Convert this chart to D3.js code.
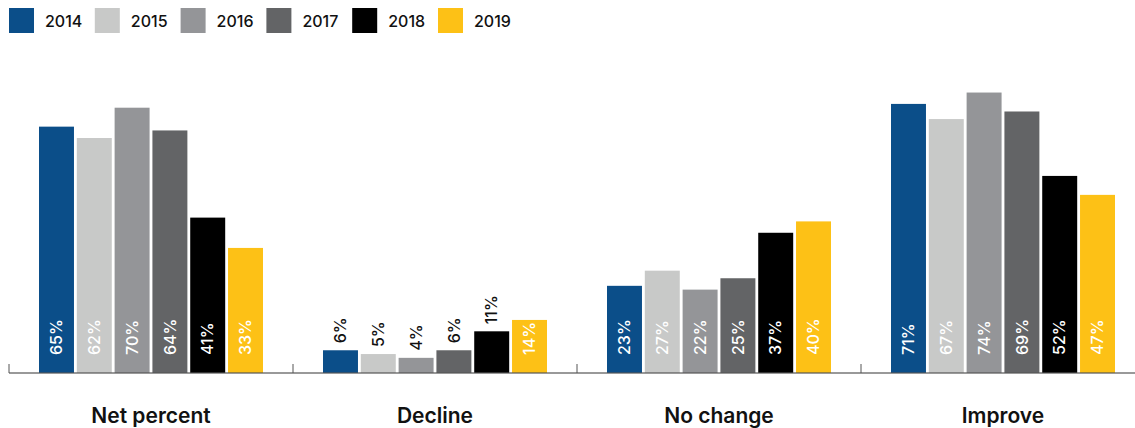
<!DOCTYPE html>
<html>
<head>
<meta charset="utf-8">
<script src="https://cdn.jsdelivr.net/npm/d3@7"></script>
<style>
  html, body { margin: 0; padding: 0; background: #fff; }
  svg { display: block; font-family: Inter, "Liberation Sans", Arial, sans-serif; }
</style>
</head>
<body>
<svg id="chart" width="1135" height="428"></svg>
<script>
const categories = ["Net percent", "Decline", "No change", "Improve"];
const years = ["2014", "2015", "2016", "2017", "2018", "2019"];
const v2014 = [65, 6, 23, 71];
const v2015 = [62, 5, 27, 67];
const v2016 = [70, 4, 22, 74];
const v2017 = [64, 6, 25, 69];
const v2018 = [41, 11, 37, 52];
const v2019 = [33, 14, 40, 47];
const seriesValues = [v2014, v2015, v2016, v2017, v2018, v2019];
const colors = ["#0b4e89", "#c8c9c8", "#949598", "#636466", "#000000", "#fdc116"];

const svg = d3.select("#chart");
const baseY = 373;

const x0 = d3.scaleBand().domain(categories).range([9, 1145]).padding(0);
const groupW = 224;
const x1 = d3.scaleBand().domain(years).range([0, groupW]).paddingInner(0.075).paddingOuter(0);
const y = d3.scaleLinear().domain([0, 80]).range([baseY, baseY - 3.79 * 80]);
const color = d3.scaleOrdinal().domain(years).range(colors);

// Legend
const legend = svg.append("g");
years.forEach((yr, i) => {
  const g = legend.append("g").attr("transform", `translate(${9 + i * 85.8},8)`);
  g.append("rect").attr("width", 25).attr("height", 25).attr("fill", color(yr));
  g.append("text").attr("x", 36).attr("y", 13).attr("dy", "0.36em")
    .attr("font-size", 16).attr("font-weight", 500).attr("fill", "#111").text(yr);
});

// Data rows
const rows = [];
categories.forEach((c, ci) => {
  years.forEach((yr, si) => rows.push({ cat: c, year: yr, value: seriesValues[si][ci] }));
});

const groupX = c => x0(c) + x0.bandwidth() / 2 - groupW / 2;

svg.append("g").selectAll("rect").data(rows).join("rect")
  .attr("x", d => groupX(d.cat) + x1(d.year))
  .attr("y", d => y(d.value))
  .attr("width", x1.bandwidth())
  .attr("height", d => baseY - y(d.value))
  .attr("fill", d => color(d.year));

// Axis baseline with ticks going up
const axis = svg.append("g");
axis.append("line").attr("x1", 9).attr("x2", 1135).attr("y1", baseY).attr("y2", baseY)
  .attr("stroke", "#555").attr("stroke-opacity", 0.8).attr("stroke-width", 1.3);
const bounds = categories.map(c => x0(c));
axis.selectAll("line.tick").data(bounds).join("line").attr("class", "tick")
  .attr("x1", d => d).attr("x2", d => d).attr("y1", baseY).attr("y2", baseY - 9)
  .attr("stroke", "#555").attr("stroke-width", 1);

// Value labels
svg.append("g").selectAll("text").data(rows).join("text")
  .each(function (d) {
    const cx = groupX(d.cat) + x1(d.year) + x1.bandwidth() / 2;
    const h = baseY - y(d.value);
    const inside = h > 50;
    const sy = inside ? baseY - 18 : y(d.value) - 7;
    d3.select(this)
      .attr("transform", `translate(${cx},${sy}) rotate(-90)`)
      .attr("dy", "0.36em")
      .attr("text-anchor", "start")
      .attr("font-size", 16)
      .attr("font-weight", 500)
      .attr("fill", inside ? "#fff" : "#111")
      .text(d.value + "%");
  });

// Category labels
svg.append("g").selectAll("text").data(categories).join("text")
  .attr("x", c => x0(c) + x0.bandwidth() / 2)
  .attr("y", 416).attr("dy", "0.35em")
  .attr("text-anchor", "middle")
  .attr("font-size", 21).attr("font-weight", 600).attr("fill", "#111")
  .text(c => c);
</script>
</body>
</html>
